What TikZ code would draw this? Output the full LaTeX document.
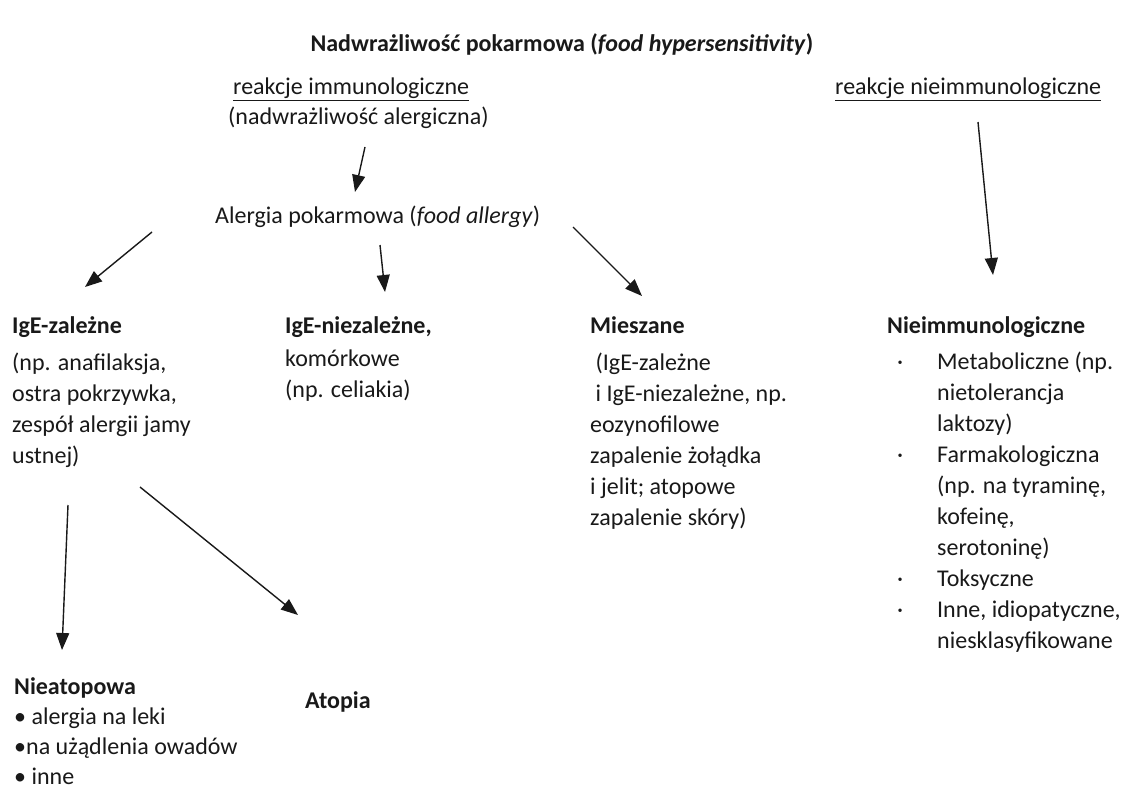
\documentclass[tikz,border=0pt]{standalone}
\usepackage{fontspec}
\setmainfont{Carlito}
\usetikzlibrary{arrows.meta}
\definecolor{ink}{RGB}{25,25,25}
\newcommand{\blk}[1]{\begin{tabular}[t]{@{}l@{}}#1\end{tabular}}
\newcommand{\bul}{\makebox[40pt][l]{·}}
\begin{document}
\begin{tikzpicture}[x=1pt,y=-1pt,
  txt/.style={inner sep=0pt,anchor=base west,text=ink,font=\fontsize{24}{31}\selectfont},
  ctr/.style={inner sep=0pt,anchor=base,text=ink,font=\fontsize{24}{31}\selectfont},
  arr/.style={draw=ink,line width=1.4pt,-{Triangle[length=17pt,width=13pt]}}]
\fill[white] (0,0) rectangle (1125,789);
\useasboundingbox (0,0) rectangle (1125,789);
% top
\node[ctr] (title) at (562,52) {\bfseries Nadwrażliwość pokarmowa (\textit{food hypersensitivity})};
\node[txt] (immun) at (233,95) {\underline{reakcje immunologiczne}};
\node[txt] (alerg) at (228,125) {(nadwrażliwość alergiczna)};
\node[txt] (nieimmun) at (835,95) {\underline{reakcje nieimmunologiczne}};
\node[txt] (food) at (215,223) {Alergia pokarmowa (\textit{food allergy})};
% columns
\node[txt] (ige) at (12,333) {\blk{\textbf{IgE-zależne}\\[6pt](np. anafilaksja,\\ostra pokrzywka,\\zespół alergii jamy\\ustnej)}};
\node[txt] (nonige) at (285,333) {\blk{\textbf{IgE-niezależne,}\\[2pt]komórkowe\\(np. celiakia)}};
\node[txt] (mix) at (590,333) {\blk{\textbf{Mieszane}\\[6pt]\ (IgE-zależne\\\ i IgE-niezależne, np.\\eozynofilowe\\zapalenie żołądka\\i jelit; atopowe\\zapalenie skóry)}};
\node[txt] (nonimm) at (887,333) {\textbf{Nieimmunologiczne}};
\node[txt] (nonimmlist) at (897,369) {\begin{tabular}[t]{@{}l@{}l@{}}
\bul & Metaboliczne (np.\\ & nietolerancja\\ & laktozy)\\
\bul & Farmakologiczna\\ & (np. na tyraminę,\\ & kofeinę,\\ & serotoninę)\\
\bul & Toksyczne\\
\bul & Inne, idiopatyczne,\\ & niesklasyfikowane\end{tabular}};
% bottom
\node[txt] (nieat) at (14,694) {\blk{\textbf{Nieatopowa}\\[-1pt]• alergia na leki\\[-1pt]•na użądlenia owadów\\[-1pt]• inne}};
\node[txt] (atopia) at (305,708) {\textbf{Atopia}};
% connector ends
\coordinate (t1) at (365,147); \coordinate (t2) at (355,192);
\coordinate (l1) at (152,232); \coordinate (l2) at (85,287);
\coordinate (m1) at (380,245); \coordinate (m2) at (385,292);
\coordinate (r1) at (573,227); \coordinate (r2) at (642,296);
\coordinate (n1) at (978,122); \coordinate (n2) at (993,275);
\coordinate (d1) at (68,505); \coordinate (d2) at (62,650);
\coordinate (g1) at (140,487); \coordinate (g2) at (298,615);
\draw[arr] (t1) -- (t2);
\draw[arr] (l1) -- (l2);
\draw[arr] (m1) -- (m2);
\draw[arr] (r1) -- (r2);
\draw[arr] (n1) -- (n2);
\draw[arr] (d1) -- (d2);
\draw[arr] (g1) -- (g2);
\end{tikzpicture}
\end{document}
